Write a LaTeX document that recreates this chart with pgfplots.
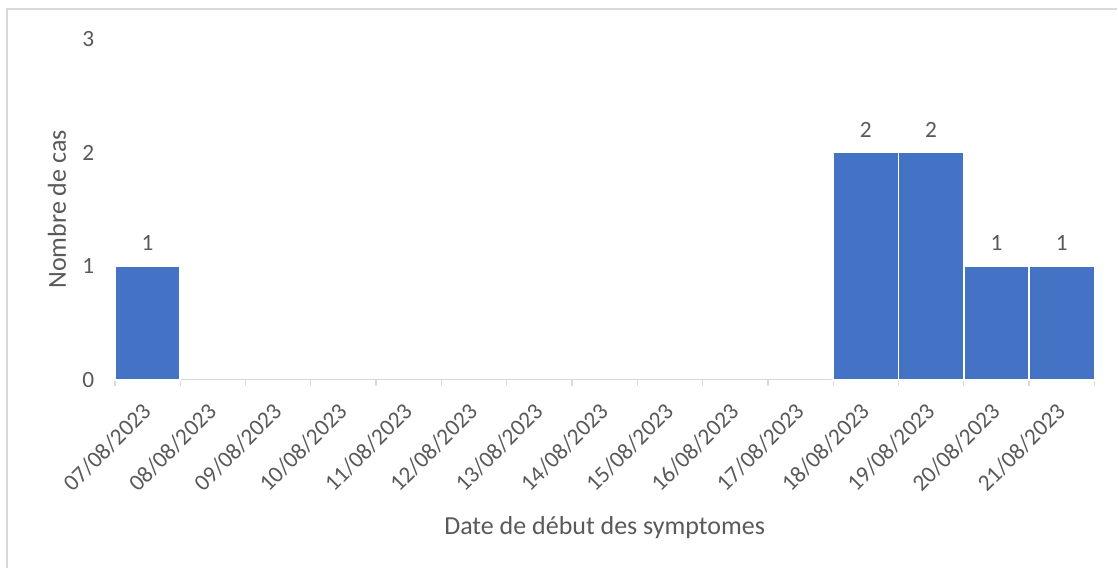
\documentclass[border=0pt]{standalone}
\usepackage{fontspec}
\setmainfont{Carlito}
\usepackage{pgfplots}
\pgfplotsset{compat=1.18}
\definecolor{barblue}{HTML}{4472C4}
\definecolor{txtgray}{HTML}{595959}
\definecolor{linegray}{HTML}{D9D9D9}
\begin{document}
\begin{tikzpicture}
\begin{axis}[
  scale only axis,
  width=735pt, height=255.75pt,
  xmin=-0.5, xmax=14.5,
  ymin=0, ymax=3,
  ytick={0,1,2,3},
  xtick={0,...,14},
  xticklabels={07/08/2023,08/08/2023,09/08/2023,10/08/2023,11/08/2023,12/08/2023,13/08/2023,14/08/2023,15/08/2023,16/08/2023,17/08/2023,18/08/2023,19/08/2023,20/08/2023,21/08/2023},
  minor xtick={-0.5,0.5,...,14.5},
  major tick length=0pt,
  minor tick length=4.5pt,
  tick align=outside,
  axis lines*=left,
  x axis line style={draw=linegray, line width=1pt, -},
  y axis line style={draw=none},
  ytick style={draw=none},
  xtick style={draw=linegray, line width=1pt},
  /pgf/number format/assume math mode=true,
  tick label style={font=\fontsize{17.5}{21}\selectfont, text=txtgray},
  yticklabel style={xshift=-12pt},
  xticklabel style={rotate=45, anchor=north east, xshift=-11.5pt, yshift=-4.4pt},
  xlabel={Date de début des symptomes},
  ylabel={Nombre de cas},
  label style={font=\fontsize{19.5}{23}\selectfont, text=txtgray},
  xlabel style={at={(axis description cs:0.5,0)}, anchor=center, yshift=-111pt},
  ylabel style={at={([xshift=-43.5pt]axis description cs:0,0.5)}, anchor=center},
  ybar, bar width=1,
  nodes near coords,
  nodes near coords style={font=\fontsize{17.5}{21}\selectfont, text=txtgray, yshift=7.5pt},
  clip=false,
]
\addplot[fill=barblue, draw=white, line width=1.1pt]
 coordinates {(0,1) (11,2) (12,2) (13,1) (14,1)};
\end{axis}
\path ([shift={(-86.25pt,-141pt)}]current axis.south west) rectangle ([shift={(17.25pt,29.25pt)}]current axis.north east);
\draw[linegray, line width=1pt] ([shift={(-81pt,-141pt)}]current axis.south west) -- ([shift={(-81pt,22.5pt)}]current axis.north west) -- ([shift={(17.25pt,22.5pt)}]current axis.north east);
\end{tikzpicture}
\end{document}
